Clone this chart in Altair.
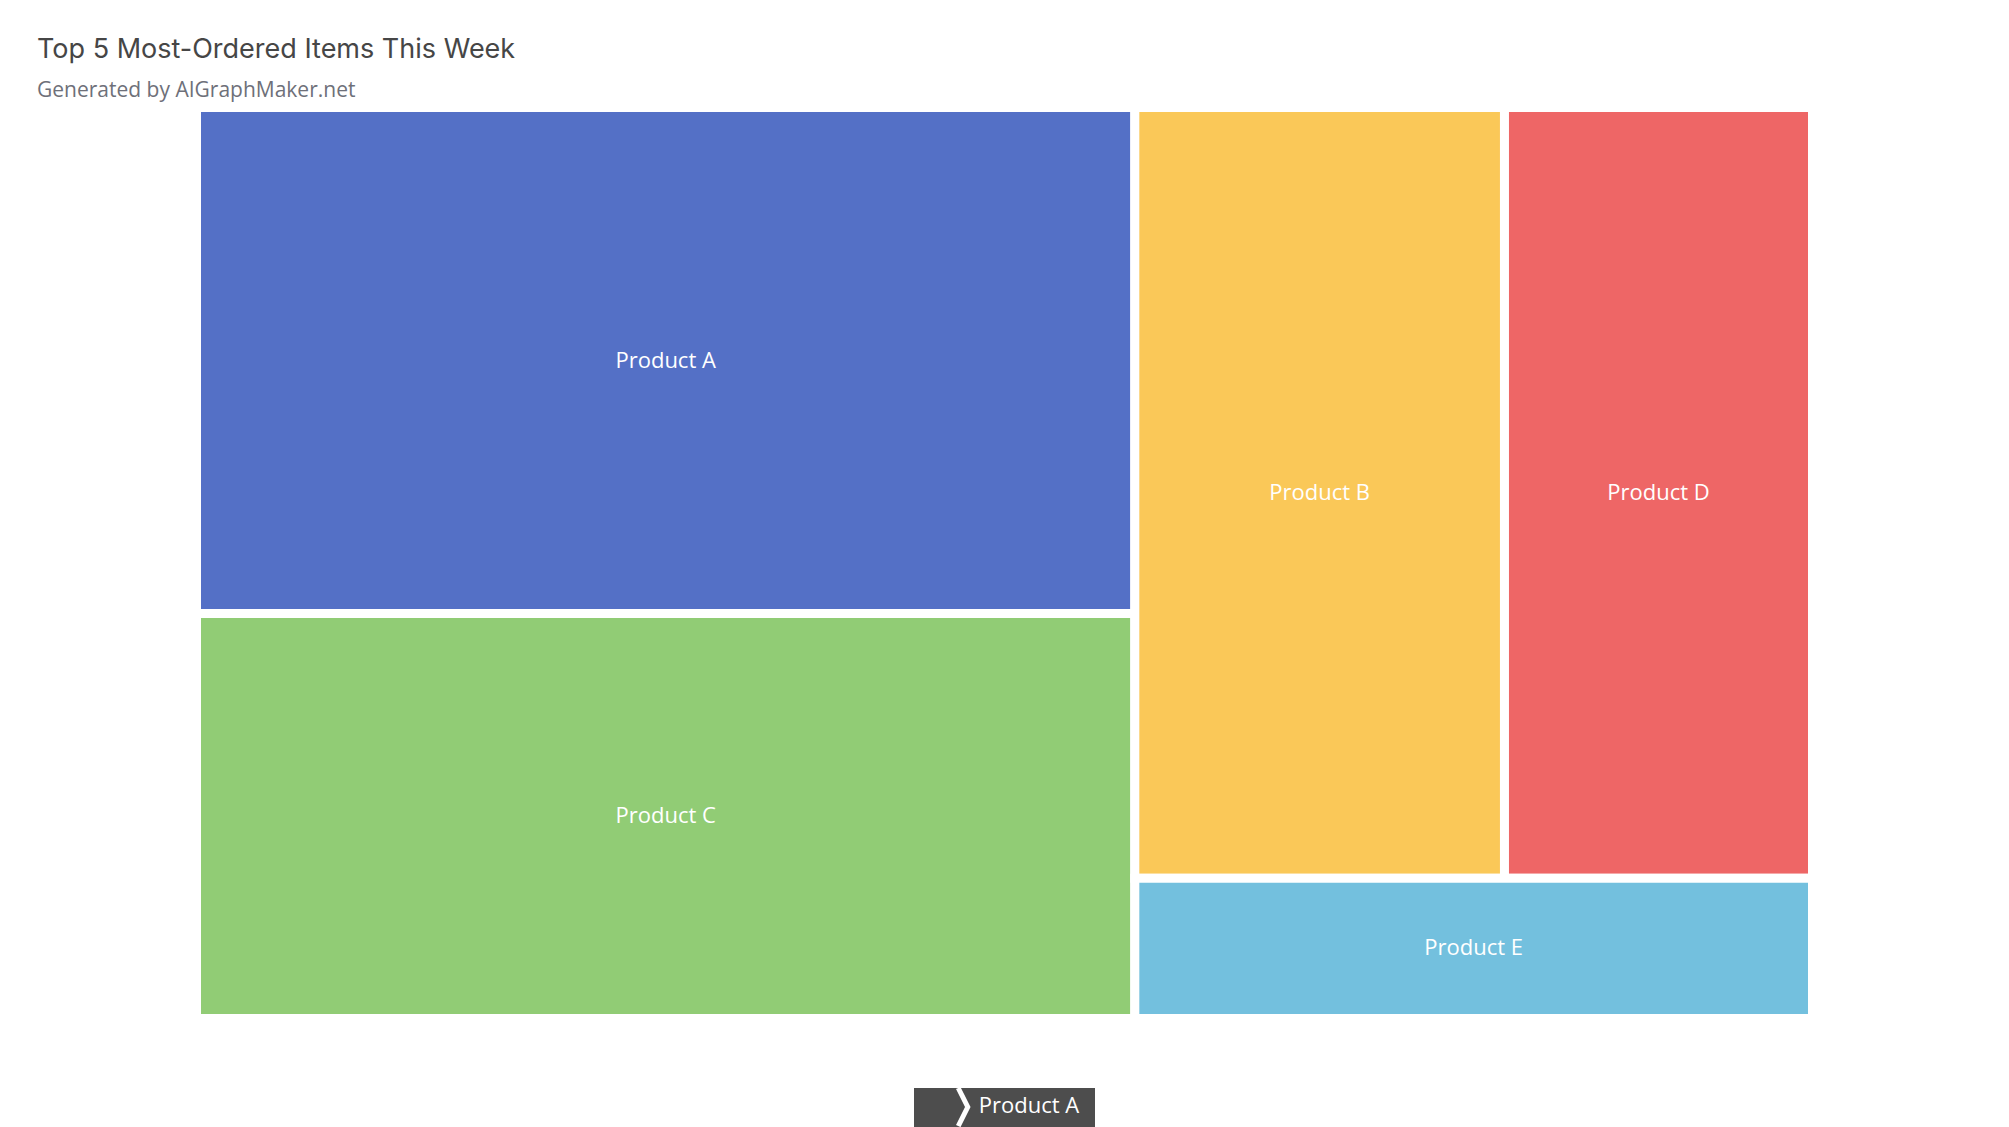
import math
import altair as alt
import pandas as pd

# ---- data ----
products = ["Product A", "Product B", "Product C", "Product D", "Product E"]
orders = [150, 90, 120, 75, 30]
colors = ["#5470c6", "#fac858", "#91cc75", "#ee6666", "#73c0de"]

title_text = "Top 5 Most-Ordered Items This Week"
subtitle_text = "Generated by AIGraphMaker.net"

# ---- treemap layout (squarified, golden-ratio target like ECharts) ----
W, H = 1616, 911
RATIO = 0.5 * (1 + math.sqrt(5))


def worst(areas, fixed, ratio):
    s = sum(areas)
    sq = s * s
    f = fixed * fixed * ratio
    return max(f * max(areas) / sq, sq / (f * min(areas)))


def squarify(items, x, y, w, h):
    total = sum(v for _, v in items)
    rest = [(n, v * w * h / total) for n, v in sorted(items, key=lambda t: -t[1])]
    out = []
    while rest:
        fixed = min(w, h)
        row, best = [], float("inf")
        while rest:
            cand = row + [rest[0]]
            s = worst([a for _, a in cand], fixed, RATIO)
            if s <= best:
                row, best = cand, s
                rest.pop(0)
            else:
                break
        ra = sum(a for _, a in row)
        if w >= h:
            t = ra / h
            yy = y
            for n, a in row:
                hh = a / t
                out.append((n, x, yy, x + t, yy + hh))
                yy += hh
            x += t
            w -= t
        else:
            t = ra / w
            xx = x
            for n, a in row:
                ww = a / t
                out.append((n, xx, y, xx + ww, y + t))
                xx += ww
            y += t
            h -= t
    return out


cells_layout = squarify(list(zip(products, orders)), 0, 0, W, H)
value_of = dict(zip(products, orders))
df = pd.DataFrame(
    [
        {
            "product": n,
            "orders": value_of[n],
            "x0": a,
            "y0": b,
            "x1": c,
            "y1": d,
            "xc": (a + c) / 2,
            "yc": (b + d) / 2,
        }
        for n, a, b, c, d in cells_layout
    ]
)

xs = alt.Scale(domain=[0, W], nice=False, zero=False)
ys = alt.Scale(domain=[0, H], nice=False, zero=False, reverse=True)

base = alt.Chart(df)
cells = base.mark_rect(stroke="white", strokeWidth=9).encode(
    x=alt.X("x0:Q", scale=xs, axis=None),
    x2="x1:Q",
    y=alt.Y("y0:Q", scale=ys, axis=None),
    y2="y1:Q",
    color=alt.Color("product:N", scale=alt.Scale(domain=products, range=colors), legend=None),
    tooltip=["product:N", "orders:Q"],
)
labels = base.mark_text(color="white", fontSize=22, font="Open Sans", baseline="middle").encode(
    x=alt.X("xc:Q", scale=xs, axis=None),
    y=alt.Y("yc:Q", scale=ys, axis=None),
    text="product:N",
)

# ---- breadcrumb ----
crumb = alt.Chart(pd.DataFrame({"label": [products[0]]}))
bc_rect = crumb.mark_rect(color="#4d4d4d").encode(
    x=alt.value(717.5), x2=alt.value(898.5), y=alt.value(980.5), y2=alt.value(1022)
)
bc_chev = crumb.mark_point(
    shape="M-0.25,-1L0.25,0L-0.25,1", filled=False, stroke="white", strokeWidth=5, size=1444, opacity=1
).encode(x=alt.value(766.5), y=alt.value(999.5))
bc_text = crumb.mark_text(color="white", fontSize=22, font="Open Sans", baseline="alphabetic").encode(
    x=alt.value(832.5), y=alt.value(1005), text="label:N"
)

chart = (
    alt.layer(cells, labels, bc_rect, bc_chev, bc_text)
    .properties(
        width=W,
        height=H,
        padding={"left": 188.5, "top": 99.5, "right": 150, "bottom": 108.5},
        autosize=alt.AutoSizeParams(type="none"),
        title=alt.TitleParams(
            text=title_text,
            subtitle=subtitle_text,
            anchor="start",
            font="Inter",
            fontSize=27,
            fontWeight="normal",
            color="#464646",
            subtitleFont="Open Sans",
            subtitleFontSize=21,
            subtitleColor="#6e7079",
            subtitlePadding=16,
            dx=-155,
            offset=1,
        ),
    )
    .configure_view(strokeWidth=0)
)

chart.save("out.html", embed_options={"renderer": "svg", "actions": False})
